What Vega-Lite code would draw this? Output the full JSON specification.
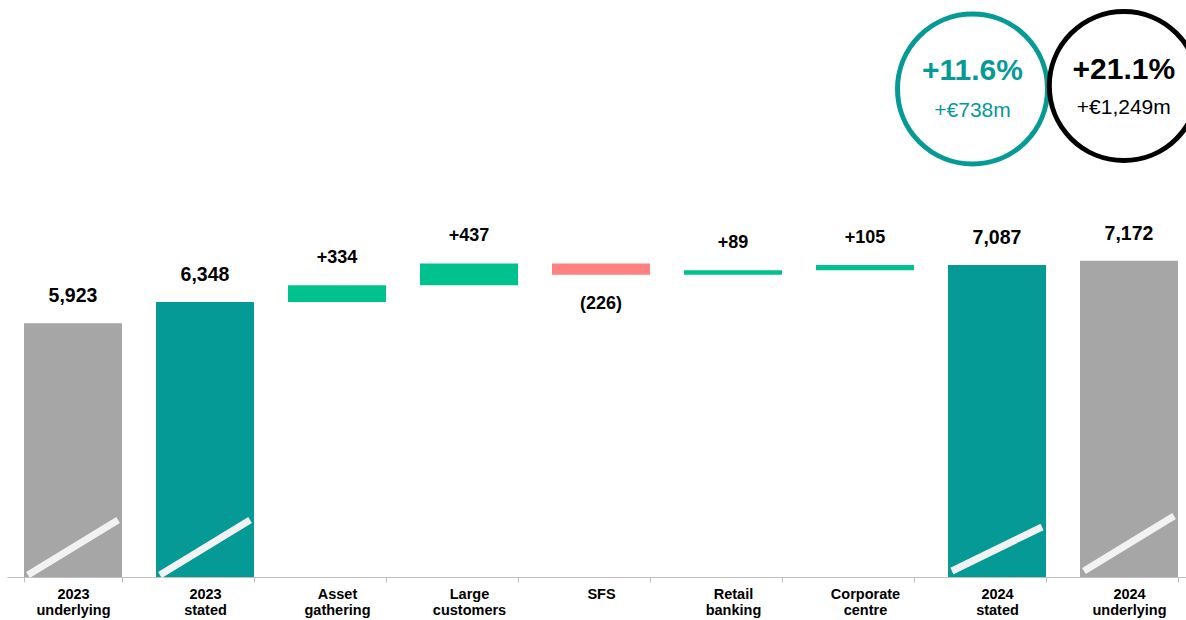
{
  "$schema": "https://vega.github.io/schema/vega-lite/v6.json",
  "width": 1179,
  "height": 577,
  "autosize": {"type": "none"},
  "padding": {"left": 7, "top": 0, "right": 0, "bottom": 43},
  "background": "white",
  "config": {"view": {"stroke": null}, "font": "Liberation Sans"},
  "datasets": {
    "bars": [
      {"cat": "2023 underlying", "lo": 0, "hi": 5923, "kind": "total", "color": "grey", "label": "5,923"},
      {"cat": "2023 stated", "lo": 0, "hi": 6348, "kind": "total", "color": "teal", "label": "6,348"},
      {"cat": "Asset gathering", "lo": 6348, "hi": 6682, "kind": "up", "color": "green", "label": "+334"},
      {"cat": "Large customers", "lo": 6682, "hi": 7119, "kind": "up", "color": "green", "label": "+437"},
      {"cat": "SFS", "lo": 6893, "hi": 7119, "kind": "down", "color": "red", "label": "(226)"},
      {"cat": "Retail banking", "lo": 6893, "hi": 6982, "kind": "up", "color": "green", "label": "+89"},
      {"cat": "Corporate centre", "lo": 6982, "hi": 7087, "kind": "up", "color": "green", "label": "+105"},
      {"cat": "2024 stated", "lo": 0, "hi": 7087, "kind": "total", "color": "teal", "label": "7,087"},
      {"cat": "2024 underlying", "lo": 0, "hi": 7172, "kind": "total", "color": "grey", "label": "7,172"}
    ],
    "breaks": [
      {"cat": "2023 underlying", "b0": 888, "b1": 1988},
      {"cat": "2023 stated", "b0": 888, "b1": 1988},
      {"cat": "2024 stated", "b0": 968, "b1": 1848},
      {"cat": "2024 underlying", "b0": 968, "b1": 2068}
    ],
    "circleA": [{"cat": "2024 stated", "pct": "+11.6%", "amt": "+€738m"}],
    "circleB": [{"cat": "2024 underlying", "pct": "+21.1%", "amt": "+€1,249m"}]
  },
  "encoding": {
    "x": {
      "field": "cat",
      "type": "nominal",
      "sort": null,
      "scale": {
        "domain": ["2023 underlying", "2023 stated", "Asset gathering", "Large customers", "SFS", "Retail banking", "Corporate centre", "2024 stated", "2024 underlying"],
        "range": [0, 1188],
        "paddingInner": 0.2576,
        "paddingOuter": 0.1288
      },
      "axis": {
        "title": null,
        "labelAngle": 0,
        "labelExpr": "isValid(datum.value) ? split(datum.value, ' ') : ''",
        "labelFont": "Liberation Sans",
        "labelFontWeight": "bold",
        "labelFontSize": 14.5,
        "labelColor": "#000000",
        "labelLineHeight": 16,
        "labelPadding": 5,
        "labelBaseline": "top",
        "domainColor": "#BFBFBF",
        "domainWidth": 1,
        "tickColor": "#BFBFBF",
        "tickSize": 5,
        "tickBand": "extent",
        "grid": false
      }
    }
  },
  "layer": [
    {
      "data": {"name": "bars"},
      "mark": {"type": "bar", "clip": true},
      "encoding": {
        "y": {"field": "hi", "type": "quantitative", "scale": {"domain": [848, 12388], "zero": false, "nice": false}, "axis": null},
        "y2": {"field": "lo"},
        "color": {
          "field": "color",
          "type": "nominal",
          "scale": {"domain": ["grey", "teal", "green", "red"], "range": ["#A6A6A6", "#069A97", "#00C28E", "#FF8080"]},
          "legend": null
        }
      }
    },
    {
      "data": {"name": "breaks"},
      "mark": {"type": "rule", "color": "#F2F2F2", "strokeWidth": 7, "strokeCap": "butt"},
      "encoding": {
        "x": {"field": "cat", "type": "nominal", "bandPosition": 0.04},
        "x2": {"field": "cat", "bandPosition": 0.96},
        "y": {"field": "b0", "type": "quantitative"},
        "y2": {"field": "b1"}
      }
    },
    {
      "data": {"name": "bars"},
      "transform": [{"filter": "datum.kind == 'total'"}],
      "mark": {"type": "text", "fontWeight": "bold", "fontSize": 19.5, "baseline": "alphabetic", "dy": -21, "color": "#000000"},
      "encoding": {
        "y": {"field": "hi", "type": "quantitative"},
        "text": {"field": "label"}
      }
    },
    {
      "data": {"name": "bars"},
      "transform": [{"filter": "datum.kind == 'up'"}],
      "mark": {"type": "text", "fontWeight": "bold", "fontSize": 18, "baseline": "alphabetic", "dy": -22, "color": "#000000"},
      "encoding": {
        "y": {"field": "hi", "type": "quantitative"},
        "text": {"field": "label"}
      }
    },
    {
      "data": {"name": "bars"},
      "transform": [{"filter": "datum.kind == 'down'"}],
      "mark": {"type": "text", "fontWeight": "bold", "fontSize": 18, "baseline": "top", "dy": 20, "color": "#000000"},
      "encoding": {
        "y": {"field": "lo", "type": "quantitative"},
        "text": {"field": "label"}
      }
    },
    {
      "data": {"name": "circleA"},
      "encoding": {
        "x": {"field": "cat", "type": "nominal", "bandPosition": 0.25},
        "y": {"datum": 10608, "type": "quantitative"}
      },
      "layer": [
        {"mark": {"type": "point", "shape": "circle", "filled": false, "stroke": "#069A97", "strokeWidth": 5, "size": 22500, "opacity": 1}},
        {"mark": {"type": "text", "fontWeight": "bold", "fontSize": 30, "baseline": "middle", "dy": -18, "color": "#069A97"}, "encoding": {"text": {"field": "pct"}}},
        {"mark": {"type": "text", "fontSize": 21, "baseline": "middle", "dy": 22, "color": "#069A97"}, "encoding": {"text": {"field": "amt"}}}
      ]
    },
    {
      "data": {"name": "circleB"},
      "encoding": {
        "x": {"field": "cat", "type": "nominal", "bandPosition": 0.447},
        "y": {"datum": 10668, "type": "quantitative"}
      },
      "layer": [
        {"mark": {"type": "point", "shape": "circle", "filled": false, "stroke": "#000000", "strokeWidth": 5, "size": 22200, "opacity": 1}},
        {"mark": {"type": "text", "fontWeight": "bold", "fontSize": 30, "baseline": "middle", "dy": -16, "color": "#000000"}, "encoding": {"text": {"field": "pct"}}},
        {"mark": {"type": "text", "fontSize": 21, "baseline": "middle", "dy": 22, "color": "#000000"}, "encoding": {"text": {"field": "amt"}}}
      ]
    }
  ]
}
